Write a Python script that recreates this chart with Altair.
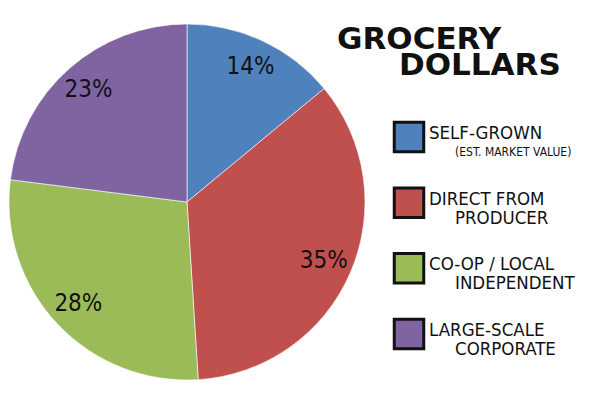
import altair as alt
import pandas as pd

# Share of grocery spending by source
categories = ["Self-grown", "Direct from producer", "Co-op / local independent", "Large-scale corporate"]
shares = [14, 35, 28, 23]
colors = ["#4F81BD", "#C0504D", "#9BBB59", "#8064A2"]

# Legend text, split over two lines
legend_line1 = ["SELF-GROWN", "DIRECT FROM", "CO-OP / LOCAL", "LARGE-SCALE"]
legend_line2 = ["(EST. MARKET VALUE)", "PRODUCER", "INDEPENDENT", "CORPORATE"]

title_lines = ["GROCERY", "DOLLARS"]

df = pd.DataFrame({
    "category": categories,
    "share": shares,
    "order": list(range(len(categories))),
    "label": [f"{v}%" for v in shares],
    "line1": legend_line1,
    "line2": legend_line2,
})

FONT = "'DejaVu Sans Condensed', 'DejaVu Sans', sans-serif"
TITLE_FONT = "'DejaVu Sans', sans-serif"
CX, CY, R = 187, 202, 178

color_scale = alt.Scale(domain=categories, range=colors)
base = alt.Chart(df)

pie = base.mark_arc(radius=R, stroke="#ffffff", strokeWidth=0.6).encode(
    theta=alt.Theta("share:Q", stack=True),
    order=alt.Order("order:Q"),
    color=alt.Color("category:N", scale=color_scale, legend=None),
    x=alt.value(CX),
    y=alt.value(CY),
)

pie_labels = base.mark_text(radius=149, fontSize=24, font=FONT, color="#111111").encode(
    theta=alt.Theta("share:Q", stack=True),
    order=alt.Order("order:Q"),
    text="label:N",
    x=alt.value(CX),
    y=alt.value(CY),
)

row_y = alt.Y("order:Q", scale=alt.Scale(domain=[0, 3], range=[137, 334]), axis=None)

boxes = base.mark_square(size=870, filled=True, opacity=1, stroke="#111111", strokeWidth=3).encode(
    x=alt.value(409),
    y=row_y,
    color=alt.Color("category:N", scale=color_scale, legend=None),
)

legend_text1 = base.mark_text(align="left", baseline="middle", fontSize=18.5, font=FONT, dy=-4, color="#111111").encode(
    x=alt.value(429),
    y=row_y,
    text="line1:N",
)

legend_text2 = base.mark_text(align="left", baseline="middle", font=FONT, dy=15, color="#111111").encode(
    x=alt.value(455),
    y=row_y,
    text="line2:N",
    size=alt.condition(alt.datum.order == 0, alt.value(12), alt.value(18.5)),
)

title_df = pd.DataFrame({"line": title_lines, "idx": [0, 1]})
title = alt.Chart(title_df).mark_text(
    align="left", baseline="middle", fontSize=31, fontWeight="bold", font=TITLE_FONT, color="#111111"
).encode(
    x=alt.X("idx:Q", scale=alt.Scale(domain=[0, 1], range=[337, 399]), axis=None),
    y=alt.Y("idx:Q", scale=alt.Scale(domain=[0, 1], range=[40, 66]), axis=None),
    text="line:N",
)

chart = alt.layer(pie, pie_labels, boxes, legend_text1, legend_text2, title).properties(
    width=600,
    height=400,
    autosize=alt.AutoSizeParams(type="none"),
    padding=0,
    background="#ffffff",
).resolve_scale(y="independent", x="independent").configure_view(stroke=None)

chart.save("out.html", embed_options={"renderer": "svg", "actions": False})
